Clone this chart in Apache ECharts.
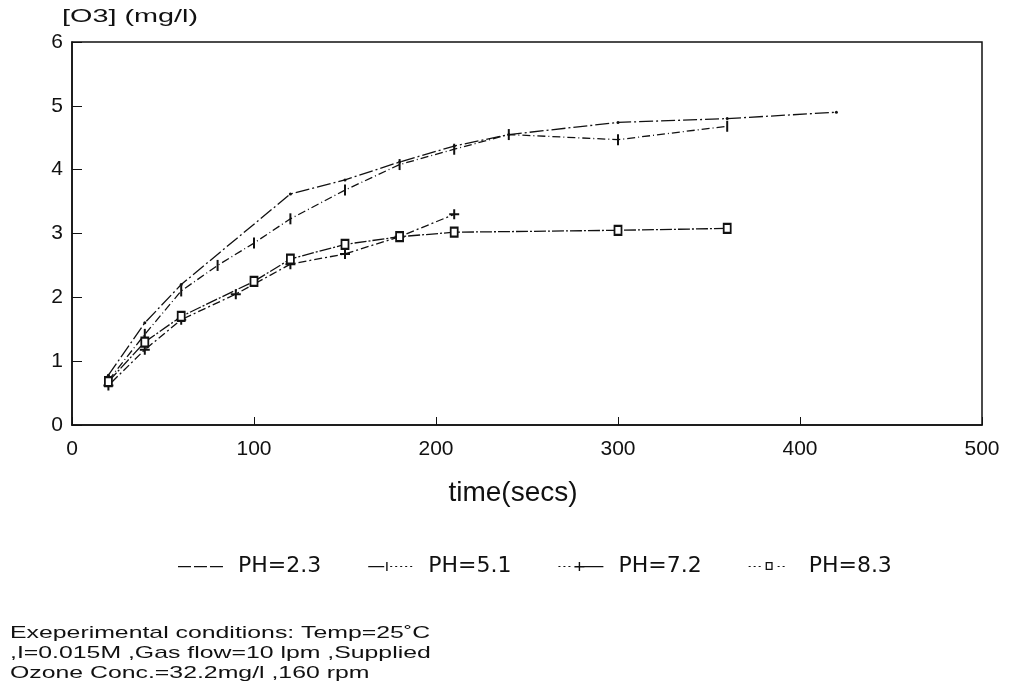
<!DOCTYPE html>
<html><head><meta charset="utf-8">
<script src="https://cdn.jsdelivr.net/npm/echarts@6/dist/echarts.min.js"></script>
<style>html,body{margin:0;padding:0;background:#fff}#c{width:1010px;height:691px}</style>
</head><body><div id="c"></div>
<script>
const seriesNames = ['PH=2.3', 'PH=5.1', 'PH=7.2', 'PH=8.3'];
const times23 = [20, 40, 60, 120, 150, 180, 210, 240, 300, 360, 420];
const vals23  = [0.78, 1.6, 2.2, 3.62, 3.84, 4.12, 4.37, 4.55, 4.74, 4.8, 4.9];
const times51 = [20, 40, 60, 80, 100, 120, 150, 180, 210, 240, 300, 360];
const vals51  = [0.7, 1.42, 2.1, 2.5, 2.85, 3.23, 3.68, 4.08, 4.32, 4.55, 4.47, 4.68];
const times72 = [20, 40, 60, 90, 120, 150, 180, 210];
const vals72  = [0.62, 1.18, 1.65, 2.05, 2.52, 2.68, 2.95, 3.3];
const times83 = [20, 40, 60, 100, 120, 150, 180, 210, 300, 360];
const vals83  = [0.68, 1.3, 1.7, 2.25, 2.6, 2.83, 2.95, 3.02, 3.05, 3.08];
const xTicks = [0, 100, 200, 300, 400, 500];
const yTicks = [0, 1, 2, 3, 4, 5, 6];
const yTitle = '[O3] (mg/l)';
const xTitle = 'time(secs)';
const noteLines = ['Exeperimental conditions: Temp=25\u02DAC', ',I=0.015M ,Gas flow=10 lpm ,Supplied', 'Ozone Conc.=32.2mg/l ,160 rpm'];

const pair = (t, v) => t.map((x, i) => [x, v[i]]);
const INK = '#111';
const FONT = '"Liberation Sans", Arial, sans-serif';
const WIDE = '"DejaVu Sans", sans-serif';
const tickSym = 'path://M0,0h1v10h-1z';
const plusSym = 'path://M4,0h2v4h4v2h-4v4h-2v-4h-4v-2h4z';
const box = 'M0,0h0.01v0.01h-0.01z M45,12h0.01v0.01h-0.01z ';
const legendIcons = [
  'path://' + box + 'M0,6h13v1.2h-13z M16,6h13v1.2h-13z M32,6h13v1.2h-13z',
  'path://' + box + 'M0,6h16v1.2h-16z M18,2h1.4v9h-1.4z M22,6h2v1h-2z M27,6h2v1h-2z M32,6h2v1h-2z M37,6h2v1h-2z M42,6h2v1h-2z',
  'path://' + box + 'M0,6h2v1h-2z M5,6h2v1h-2z M10,6h2v1h-2z M16,6h10v1.4h-10z M20.3,2h1.4v9h-1.4z M26,6h19v1.2h-19z',
  'path://' + box + 'M0,6h2v1h-2z M5,6h2v1h-2z M10,6h2v1h-2z M17,2h7v8h-7z M18.3,3.3v5.4h4.4v-5.4z M29,6h2v1h-2z M34,6h2v1h-2z'
];

const chart = echarts.init(document.getElementById('c'), null, {renderer: 'canvas'});
chart.setOption({
  backgroundColor: '#fff',
  animation: false,
  textStyle: {fontFamily: FONT, color: INK},
  grid: {left: 72, right: 28, top: 42, bottom: 266, show: true, borderColor: INK, borderWidth: 1.5},
  legend: {
    data: seriesNames.map((n, i) => ({name: n, icon: legendIcons[i]})),
    left: 173, top: 550, itemWidth: 45, itemHeight: 12, itemGap: 47,
    textStyle: {fontSize: 22, color: INK, fontFamily: WIDE, padding: [0, 0, 0, 10]}
  },
  xAxis: {
    type: 'value', min: 0, max: 500, interval: 100,
    name: xTitle, nameLocation: 'middle', nameGap: 54,
    nameTextStyle: {fontSize: 28, color: INK, fontFamily: FONT, padding: [0, 28, 0, 0]},
    axisLine: {show: true, onZero: false, lineStyle: {color: INK, width: 1.5}},
    axisTick: {show: true, inside: true, length: 8, lineStyle: {color: INK}},
    axisLabel: {fontSize: 21, color: INK, margin: 14, fontFamily: FONT, formatter: v => xTicks.includes(v) ? String(v) : ''},
    splitLine: {show: false}
  },
  yAxis: {
    type: 'value', min: 0, max: 6, interval: 1,
    axisLine: {show: true, lineStyle: {color: INK, width: 1.5}},
    axisTick: {show: true, inside: true, length: 10, lineStyle: {color: INK}},
    axisLabel: {fontSize: 21, color: INK, margin: 9, fontFamily: FONT, formatter: v => yTicks.includes(v) ? String(v) : ''},
    splitLine: {show: false}
  },
  graphic: [
    {type: 'text', x: 62, y: 8, scaleX: 1.6, scaleY: 1,
     style: {text: yTitle, fontSize: 18, fill: INK, fontFamily: FONT, textVerticalAlign: 'top'}}
  ].concat(noteLines.map((t, i) => ({
    type: 'text', x: 10, y: 625 + i * 20, scaleX: 1.46, scaleY: 1,
    style: {text: t, fontSize: 17, fill: INK, fontFamily: FONT, textVerticalAlign: 'top'}
  }))),
  series: [
    {name: seriesNames[0], type: 'line', data: pair(times23, vals23), symbol: 'circle', symbolSize: 3,
     itemStyle: {color: INK}, lineStyle: {color: INK, width: 1.3, type: [14, 3, 2, 3]}},
    {name: seriesNames[1], type: 'line', data: pair(times51, vals51), symbol: tickSym, symbolSize: [2, 11],
     itemStyle: {color: INK}, lineStyle: {color: INK, width: 1.3, type: [8, 3, 1, 3]}},
    {name: seriesNames[2], type: 'line', data: pair(times72, vals72), symbol: plusSym, symbolSize: 10,
     itemStyle: {color: INK}, lineStyle: {color: INK, width: 1.3, type: [2, 3, 8, 3]}},
    {name: seriesNames[3], type: 'line', data: pair(times83, vals83), symbol: 'emptyRect', symbolSize: [7, 9],
     itemStyle: {color: INK, borderWidth: 1.3}, lineStyle: {color: INK, width: 1.3, type: [12, 2, 2, 2]}}
  ]
});
</script></body></html>
